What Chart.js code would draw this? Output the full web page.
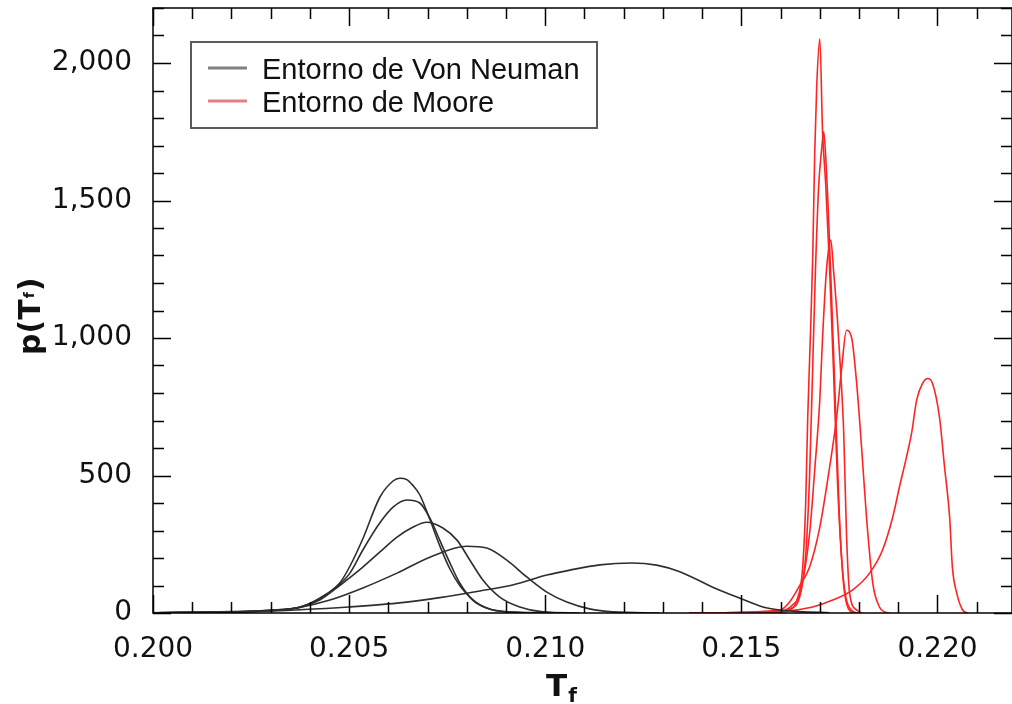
<!DOCTYPE html>
<html>
<head>
<meta charset="utf-8">
<script src="https://cdn.jsdelivr.net/npm/chart.js@4"></script>
<style>
html,body{margin:0;padding:0;background:#fff;overflow:hidden}
#wrap{width:1012px;height:704px;position:relative}
</style>
</head>
<body>
<div id="wrap"><canvas id="chart"></canvas></div>
<script>
/* DATA */
const xTicks=[0.200,0.205,0.210,0.215,0.220];
const yTicks=[0,500,1000,1500,2000];
const seriesNames=["Entorno de Von Neuman","Entorno de Moore"];

// Von Neuman curves [Tf, p]
const neuman1=[[0.2000,1],[0.20196,5],[0.20298,10],[0.20375,22],[0.20426,55],[0.20476,109],[0.20502,170],[0.20535,270],[0.20578,420],[0.20612,480],[0.20629,490],[0.20647,485],[0.20662,465],[0.20680,430],[0.20706,340],[0.20731,245],[0.20757,160],[0.20782,100],[0.20808,58],[0.20833,30],[0.20859,14],[0.20884,7],[0.20935,2],[0.21037,0]];
const neuman2=[[0.2000,1],[0.20196,4],[0.20298,10],[0.20375,22],[0.20426,52],[0.20476,105],[0.20502,145],[0.20535,229],[0.20578,327],[0.20612,385],[0.20647,411],[0.20680,400],[0.20706,345],[0.20731,265],[0.20757,182],[0.20782,109],[0.20815,47],[0.20851,18],[0.20902,4],[0.21063,0]];
const neuman3=[[0.2000,1],[0.20196,4],[0.20298,9],[0.20375,20],[0.20426,48],[0.20476,100],[0.20494,120],[0.20535,167],[0.20578,221],[0.20622,276],[0.20662,312],[0.20698,330],[0.20739,309],[0.20775,265],[0.20808,192],[0.20841,120],[0.20884,58],[0.20935,22],[0.20994,4],[0.21088,0]];
const neuman4=[[0.2000,1],[0.20196,3],[0.20298,8],[0.20367,18],[0.20451,47],[0.20535,91],[0.20622,145],[0.20706,203],[0.20800,243],[0.20851,236],[0.20902,192],[0.20953,131],[0.21004,76],[0.21055,40],[0.21113,15],[0.21172,4],[0.21292,0]];
const neuman5=[[0.2000,0],[0.20247,5],[0.20375,12],[0.20499,22],[0.20622,36],[0.20731,56],[0.20833,80],[0.20917,102],[0.21004,138],[0.21063,156],[0.21139,175],[0.21220,182],[0.21284,174],[0.21343,150],[0.21427,94],[0.21496,54],[0.21555,22],[0.21598,11],[0.21649,5],[0.21725,1]];

// Moore curves [Tf, p]
const moore1=[[0.21368,0],[0.21598,3],[0.21623,10],[0.21641,45],[0.21656,160],[0.21664,400],[0.21669,700],[0.21677,1050],[0.21682,1300],[0.21687,1670],[0.21692,1910],[0.21700,2088],[0.21707,1750],[0.21715,1560],[0.21725,1250],[0.21735,880],[0.21745,480],[0.21756,190],[0.21766,60],[0.21781,10],[0.21796,0]];
const moore2=[[0.21368,0],[0.21598,5],[0.21623,14],[0.21649,60],[0.21664,210],[0.21674,500],[0.21682,900],[0.21689,1250],[0.21697,1550],[0.21705,1690],[0.21710,1750],[0.21715,1660],[0.21722,1450],[0.21730,1150],[0.21740,750],[0.21750,350],[0.21761,100],[0.21773,15],[0.21789,0]];
const moore3=[[0.21368,0],[0.21598,6],[0.21631,30],[0.21649,70],[0.21674,290],[0.21687,520],[0.21700,775],[0.21707,1000],[0.21717,1247],[0.21728,1356],[0.21735,1247],[0.21745,1065],[0.21753,880],[0.21761,654],[0.21768,290],[0.21776,72],[0.21794,11],[0.21807,0]];
const moore4=[[0.21368,0],[0.21598,10],[0.21623,40],[0.21649,100],[0.21674,167],[0.21700,312],[0.21725,530],[0.21743,712],[0.21756,893],[0.21768,1028],[0.21781,1002],[0.21794,835],[0.21807,592],[0.21819,349],[0.21835,109],[0.21852,22],[0.21865,4],[0.21878,0]];
const moore5=[[0.21368,0],[0.21598,5],[0.21682,22],[0.21733,47],[0.21784,84],[0.21827,145],[0.21860,229],[0.21886,349],[0.21903,458],[0.21921,567],[0.21934,654],[0.21947,775],[0.21962,835],[0.21975,853],[0.21987,836],[0.22005,713],[0.22018,531],[0.22031,349],[0.22038,167],[0.22049,73],[0.22064,11],[0.22077,0]];

const neumanCurves=[neuman1,neuman2,neuman3,neuman4,neuman5];
const mooreCurves=[moore1,moore2,moore3,moore4,moore5];

/* STYLE */
const BLACK="#2e2e2e";
const RED="#ff2424";

function mkSet(arr,label,color){
return {
label,
data:arr.map(([x,y])=>({x,y})),
showLine:true,
borderColor:color,
borderWidth:1.6,
pointRadius:0,
cubicInterpolationMode:"monotone",
fill:false
};
}

const datasets=[
...neumanCurves.map(c=>mkSet(c,seriesNames[0],BLACK)),
...mooreCurves.map(c=>mkSet(c,seriesNames[1],RED))
];

/* FRAME + INWARD TICKS */
const frame={
id:"frame",
afterDraw(c){
const {ctx,chartArea:a,scales:{x,y}}=c;
ctx.save();
ctx.strokeStyle="#000";
ctx.lineWidth=1.5;
ctx.strokeRect(a.left,a.top,a.right-a.left,a.bottom-a.top);
ctx.beginPath();
for(let i=0;i<=22;i++){
const v=0.2+i*0.001;
if(v>x.max) break;
const px=Math.round(x.getPixelForValue(v))+0.5;
const L=i%5===0?18:11;
ctx.moveTo(px,a.bottom);ctx.lineTo(px,a.bottom-L);
ctx.moveTo(px,a.top);ctx.lineTo(px,a.top+L);
}
for(let i=0;i<=22;i++){
const py=Math.round(y.getPixelForValue(i*100))+0.5;
const L=i%5===0?18:11;
ctx.moveTo(a.left,py);ctx.lineTo(a.left+L,py);
ctx.moveTo(a.right,py);ctx.lineTo(a.right-L,py);
}
ctx.stroke();
ctx.restore();
}
};

/* LEGEND BOX */
const legendBox={
id:"legendBox",
afterDraw(c){
const {ctx}=c;
const bx=191,by=42,bw=406,bh=86;
ctx.save();
ctx.strokeStyle="#5a5a5a";
ctx.lineWidth=2;
ctx.strokeRect(bx,by,bw,bh);
const rows=[{y:68,color:"#808080"},{y:101,color:"#e58080"}];
ctx.font="29px 'Liberation Sans', Arial, sans-serif";
ctx.textBaseline="alphabetic";
ctx.fillStyle="#111";
rows.forEach((r,i)=>{
ctx.strokeStyle=r.color;
ctx.lineWidth=3;
ctx.beginPath();
ctx.moveTo(208,r.y);ctx.lineTo(247,r.y);
ctx.stroke();
ctx.fillText(seriesNames[i],262,r.y+11);
});
ctx.restore();
}
};

/* AXIS TITLES (with subscript) */
const axisTitles={
id:"axisTitles",
afterDraw(c){
const {ctx,chartArea:a}=c;
ctx.save();
ctx.fillStyle="#111";
ctx.textBaseline="alphabetic";
ctx.textAlign="left";

// x title: T_f
let tx=a.left+393, ty=696;
ctx.font="bold 31px 'DejaVu Sans', sans-serif";
ctx.fillText("T",tx,ty);
const tw=ctx.measureText("T").width;
ctx.font="bold 20px 'DejaVu Sans', sans-serif";
ctx.fillText("f",tx+tw+1,ty+6);

// y title: p(T_f), rotated
ctx.translate(40,355);
ctx.rotate(-Math.PI/2);
let cx=0;
ctx.font="bold 30px 'DejaVu Sans', sans-serif";
ctx.fillText("p(T",cx,0);
cx+=ctx.measureText("p(T").width;
ctx.font="bold 14px 'DejaVu Sans', sans-serif";
ctx.fillText("f",cx+1,-6);
cx+=ctx.measureText("f").width+2;
ctx.font="bold 30px 'DejaVu Sans', sans-serif";
ctx.fillText(")",cx,0);
ctx.restore();
}
};

/* CHART */
const tickFont={family:"'DejaVu Sans', sans-serif",size:28};

new Chart(document.getElementById("chart"),{
type:"scatter",
data:{datasets},
options:{
responsive:true,
maintainAspectRatio:false,
animation:false,
layout:{padding:{top:8,right:0,left:0,bottom:0}},
plugins:{legend:{display:false},tooltip:{enabled:false}},
scales:{
x:{
type:"linear",
min:0.2,
max:0.2219,
afterBuildTicks:s=>{s.ticks=xTicks.map(v=>({value:v}));},
afterFit:s=>{s.height=91;s.paddingLeft=0;s.paddingRight=0;},
grid:{display:false},
border:{display:false},
ticks:{font:tickFont,color:"#111",padding:12,maxRotation:0,callback:v=>Number(v).toFixed(3)}
},
y:{
type:"linear",
min:0,
max:2200,
afterBuildTicks:s=>{s.ticks=yTicks.map(v=>({value:v}));},
afterFit:s=>{s.width=153;s.paddingTop=0;s.paddingBottom=0;},
grid:{display:false},
border:{display:false},
ticks:{font:tickFont,color:"#111",padding:13,callback:v=>Number(v).toLocaleString("en-US")}
}
}
},
plugins:[frame,legendBox,axisTitles]
});
</script>
</body>
</html>
